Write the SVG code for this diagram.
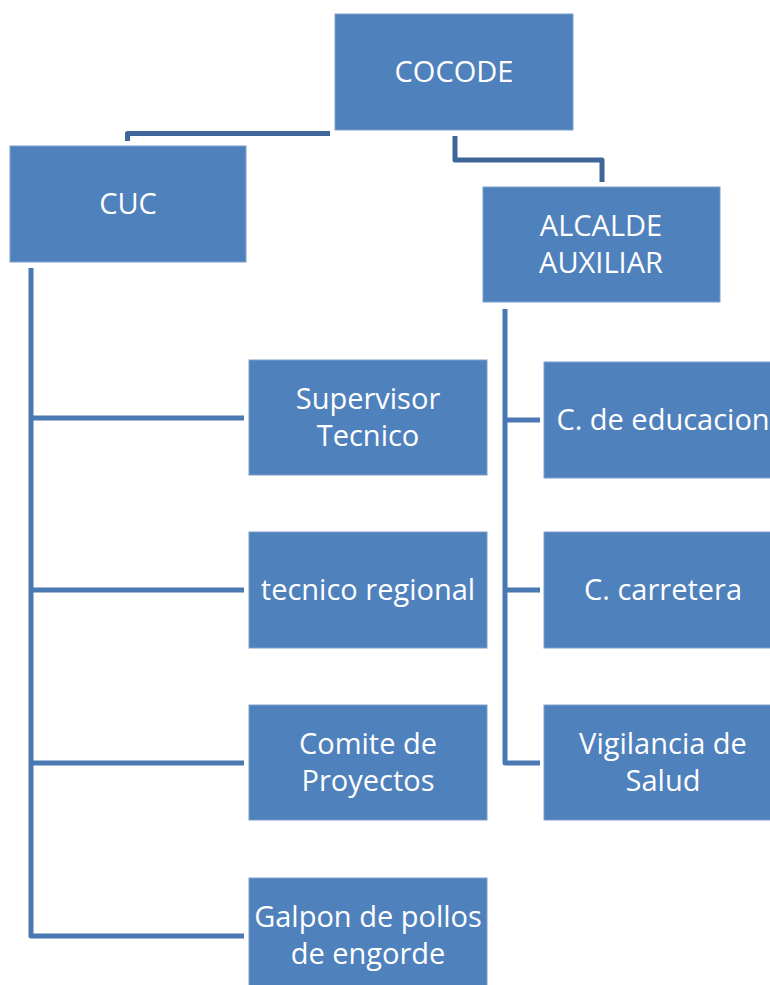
<svg xmlns="http://www.w3.org/2000/svg" width="770" height="985" viewBox="0 0 770 985">
<style>
.box{fill:#4f81bd;stroke:#7c9fcc;stroke-width:1}
.t{font-family:"Open Sans","Noto Sans",sans-serif;font-size:29px;fill:#ffffff;text-anchor:middle}
.c1{fill:none;stroke:#3e6699;stroke-width:5;stroke-linejoin:round}
.c2{fill:none;stroke:#4a78b2;stroke-width:5;stroke-linejoin:round}
</style>
<rect width="770" height="985" fill="#ffffff"/>
<g id="connectors">
<path class="c1" d="M330,133.5 H127.5 V141"/>
<path class="c1" d="M455,136 V160 H602 V182"/>
<path class="c2" d="M31,268 V936 H244"/>
<path class="c2" d="M31,418 H244 M31,590 H244 M31,763 H244"/>
<path class="c2" d="M505,309 V763 H540"/>
<path class="c2" d="M505,420 H540 M505,590 H540"/>
</g>
<g id="cocode"><rect class="box" x="335" y="14" width="238" height="116"/><text class="t" x="454" y="82">COCODE</text></g>
<g id="cuc"><rect class="box" x="10" y="146" width="236" height="116"/><text class="t" x="128" y="214">CUC</text></g>
<g id="alcalde"><rect class="box" x="483" y="187" width="237" height="115"/><text class="t" x="601" y="236">ALCALDE</text><text class="t" x="601" y="273">AUXILIAR</text></g>
<g id="supervisor"><rect class="box" x="249" y="360" width="238" height="115"/><text class="t" x="368" y="409">Supervisor</text><text class="t" x="368" y="446">Tecnico</text></g>
<g id="tecnico"><rect class="box" x="249" y="532" width="238" height="116"/><text class="t" x="368" y="600">tecnico regional</text></g>
<g id="comite"><rect class="box" x="249" y="705" width="238" height="115"/><text class="t" x="368" y="754">Comite de</text><text class="t" x="368" y="791">Proyectos</text></g>
<g id="galpon"><rect class="box" x="249" y="878" width="238" height="116"/><text class="t" x="368" y="927">Galpon de pollos</text><text class="t" x="368" y="964">de engorde</text></g>
<g id="educacion"><rect class="box" x="544" y="362" width="238" height="116"/><text class="t" x="663" y="430">C. de educacion</text></g>
<g id="carretera"><rect class="box" x="544" y="532" width="238" height="116"/><text class="t" x="663" y="600">C. carretera</text></g>
<g id="vigilancia"><rect class="box" x="544" y="705" width="238" height="115"/><text class="t" x="663" y="754">Vigilancia de</text><text class="t" x="663" y="791">Salud</text></g>
</svg>
